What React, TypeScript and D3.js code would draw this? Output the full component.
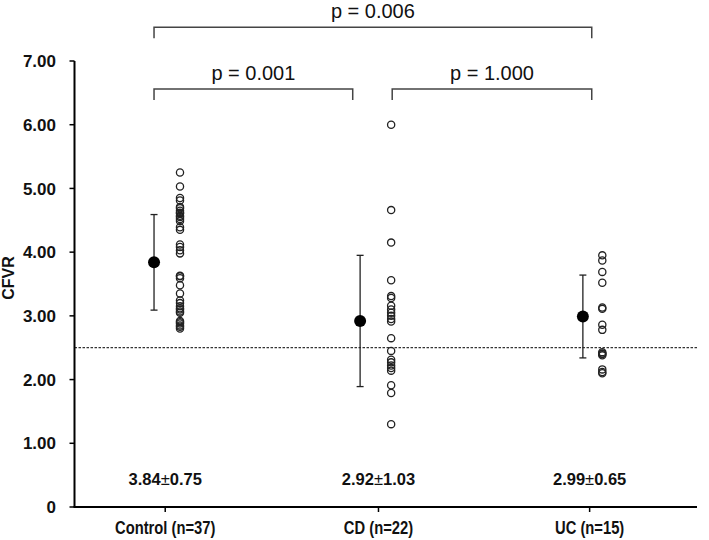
import React from "react";
import * as d3 from "d3";

const groups = ["Control (n=37)", "CD (n=22)", "UC (n=15)"];
const means = [3.84, 2.92, 2.99];
const sds = [0.75, 1.03, 0.65];
const meanLabels = ["3.84", "2.92", "2.99"];
const sdLabels = ["0.75", "1.03", "0.65"];

const controlValues = [
  5.25, 5.03, 4.85, 4.81, 4.71, 4.69, 4.65, 4.62, 4.61, 4.57, 4.55, 4.52, 4.49,
  4.39, 4.35, 4.12, 4.08, 4.03, 3.98, 3.63, 3.62, 3.59, 3.48, 3.35, 3.24, 3.2,
  3.15, 3.12, 3.1, 3.07, 3.05, 2.92, 2.9, 2.88, 2.85, 2.83, 2.8,
];
const cdValues = [
  6.0, 4.66, 4.15, 3.56, 3.31, 3.28, 3.16, 3.1, 3.05, 3.0, 2.95, 2.91, 2.65,
  2.45, 2.31, 2.27, 2.22, 2.18, 2.14, 1.91, 1.79, 1.3,
];
const ucValues = [
  3.95, 3.87, 3.69, 3.52, 3.13, 3.11, 2.86, 2.78, 2.43, 2.41, 2.4, 2.38, 2.16,
  2.12, 2.1,
];
const groupValues = [controlValues, cdValues, ucValues];

// x positions (scatter x units) of the individual points, the mean markers and the category labels
const pointX = [1, 2, 3];
const meanX = [0.877, 1.853, 2.908];
const labelX = [0.93, 1.94, 2.94];

const yTicks = [0, 1, 2, 3, 4, 5, 6, 7];
const yTickLabels = ["0", "1.00", "2.00", "3.00", "4.00", "5.00", "6.00", "7.00"];
const threshold = 2.5;
const yLabel = "CFVR";

const comparisons = [
  { x1: 0.877, x2: 2.95, label: "p = 0.006", level: 7.53, textBase: 17.5 },
  { x1: 0.877, x2: 1.818, label: "p = 0.001", level: 6.56, textBase: 80 },
  { x1: 2.005, x2: 2.95, label: "p = 1.000", level: 6.56, textBase: 80 },
];

const W = 709;
const H = 540;
const FONT = "'Liberation Sans', Arial, Helvetica, sans-serif";

export default function App() {
  const x = d3.scaleLinear().domain([1, 3]).range([180, 602.3]);
  const y = d3.scaleLinear().domain([0, 7]).range([507, 61]);
  const axisX = 74.5;
  const axisRight = 697;

  return (
    <svg
      width={W}
      height={H}
      style={{ position: "absolute", left: 0, top: 0, background: "#fff" }}
      fontFamily={FONT}
    >
      <rect width={W} height={H} fill="#fff" />
      {/* threshold dashed line */}
      <line
        x1={axisX}
        x2={axisRight}
        y1={y(threshold)}
        y2={y(threshold)}
        stroke="#000"
        strokeWidth={1}
        strokeDasharray="2.5,1.5"
      />
      {/* y axis */}
      <line x1={axisX} x2={axisX} y1={y(7)} y2={y(0)} stroke="#000" strokeWidth={2} />
      {yTicks.map((t, i) => (
        <g key={t}>
          <line x1={axisX - 5} x2={axisX} y1={y(t)} y2={y(t)} stroke="#000" strokeWidth={1.5} />
          <text
            x={56}
            y={y(t)}
            dy="0.36em"
            textAnchor="end"
            fontSize={17}
            fontWeight="bold"
            fill="#111"
          >
            {yTickLabels[i]}
          </text>
        </g>
      ))}
      <text
        transform={`translate(14,${278}) rotate(-90)`}
        textAnchor="middle"
        fontSize={16}
        fontWeight="bold"
        fill="#111"
      >
        {yLabel}
      </text>
      {/* x axis */}
      <line x1={axisX - 1} x2={axisRight} y1={y(0)} y2={y(0)} stroke="#000" strokeWidth={2} />
      {groups.map((g, i) => {
        const lx = x(labelX[i]);
        return (
          <g key={g}>
            <line x1={lx} x2={lx} y1={y(0)} y2={y(0) + 5} stroke="#000" strokeWidth={1.5} />
            <text
              transform={`translate(${lx},${y(0) + 27}) scale(0.82,1)`}
              textAnchor="middle"
              fontSize={18}
              fontWeight="bold"
              fill="#111"
            >
              {g}
            </text>
            <text
              x={lx}
              y={y(0) - 22}
              textAnchor="middle"
              fontSize={16.5}
              fontWeight="bold"
              fill="#111"
            >
              {meanLabels[i]}
              <tspan fontWeight="normal">±</tspan>
              {sdLabels[i]}
            </text>
          </g>
        );
      })}
      {/* data points */}
      {groupValues.map((vals, i) =>
        vals.map((v, j) => (
          <circle
            key={`${i}-${j}`}
            cx={x(pointX[i])}
            cy={y(v)}
            r={3.6}
            fill="none"
            stroke="#222"
            strokeWidth={1.3}
          />
        ))
      )}
      {/* mean ± SD */}
      {means.map((m, i) => {
        const cx = x(meanX[i]);
        return (
          <g key={i}>
            <line x1={cx} x2={cx} y1={y(m - sds[i])} y2={y(m + sds[i])} stroke="#222" strokeWidth={1.3} />
            <line x1={cx - 3.5} x2={cx + 3.5} y1={y(m + sds[i])} y2={y(m + sds[i])} stroke="#222" strokeWidth={1.3} />
            <line x1={cx - 3.5} x2={cx + 3.5} y1={y(m - sds[i])} y2={y(m - sds[i])} stroke="#222" strokeWidth={1.3} />
            <circle cx={cx} cy={y(m)} r={6} fill="#000" />
          </g>
        );
      })}
      {/* significance brackets */}
      {comparisons.map((c) => {
        const x1 = x(c.x1);
        const x2 = x(c.x2);
        const yTop = y(c.level);
        return (
          <g key={c.label}>
            <path
              d={`M${x1},${yTop + 11}V${yTop}H${x2}V${yTop + 11}`}
              fill="none"
              stroke="#444"
              strokeWidth={1.5}
            />
            <text
              x={(x1 + x2) / 2}
              y={c.textBase}
              textAnchor="middle"
              fontSize={20}
              fill="#111"
            >
              {c.label}
            </text>
          </g>
        );
      })}
    </svg>
  );
}
